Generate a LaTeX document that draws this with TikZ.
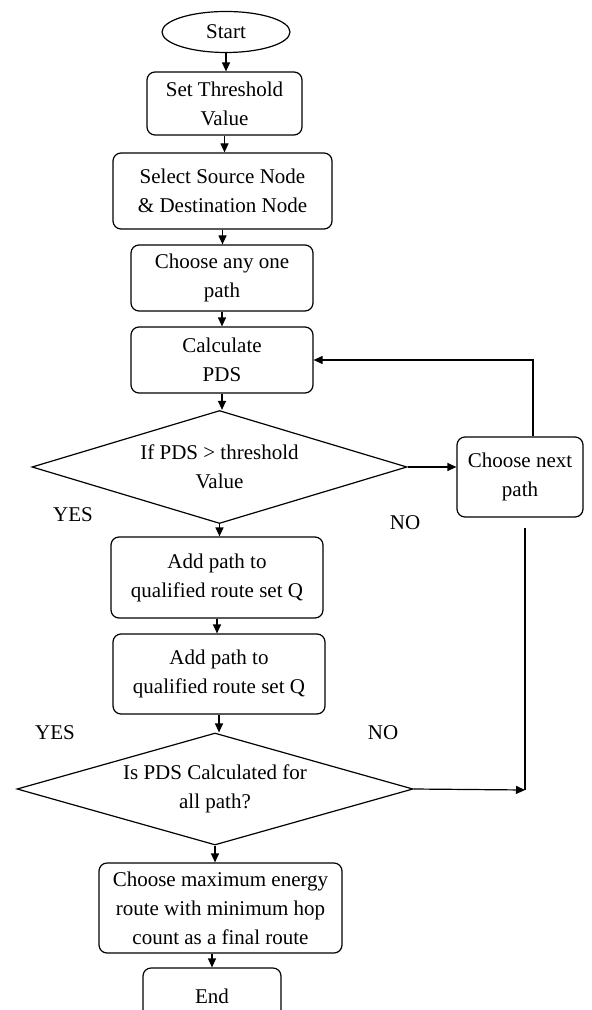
\documentclass[tikz,border=0pt]{standalone}
\usepackage{fontspec}
\setmainfont{Liberation Serif}
\usetikzlibrary{shapes.geometric,arrows.meta}

\tikzset{
  box/.style={draw, rounded corners=4pt, align=center, inner sep=2pt},
  term/.style={draw, ellipse, inner sep=0pt},
  decision/.style={draw, diamond, aspect=3.3, align=center, inner sep=0pt},
  arr/.style={-{Triangle[length=4.5pt,width=4pt]}},
  lbl/.style={inner sep=0pt}
}

\begin{document}
\begin{tikzpicture}[x=0.5pt, y=-0.5pt, line width=0.6pt,
  font=\fontsize{10.5}{14.5}\selectfont]

\clip (0,0) rectangle (592,1010);

\node[term, minimum width=64pt, minimum height=20.5pt] (start) at (226,32) {Start};
\node[box, minimum width=77.5pt, minimum height=31.5pt] (thresh) at (224.5,103.5) {Set Threshold\\Value};
\node[box, minimum width=109.5pt, minimum height=38pt] (select) at (222.5,191) {Select Source Node\\\& Destination Node};
\node[box, minimum width=91pt, minimum height=33pt] (choose) at (222,278) {Choose any one\\path};
\node[box, minimum width=91pt, minimum height=33pt] (calc) at (222,360) {Calculate\\PDS};
\node[decision, minimum width=187.5pt, minimum height=56.5pt] (dec1) at (219.5,467) {If PDS > threshold\\Value};
\node[box, minimum width=63pt, minimum height=40pt] (next) at (520,477) {Choose next\\path};
\node[box, minimum width=106pt, minimum height=40.5pt] (add1) at (217,577.5) {Add path to\\qualified route set Q};
\node[box, minimum width=106pt, minimum height=40pt] (add2) at (219,674) {Add path to\\qualified route set Q};
\node[decision, minimum width=198pt, minimum height=56pt] (dec2) at (215,789) {Is PDS Calculated for\\all path?};
\node[box, minimum width=121.5pt, minimum height=45pt] (final) at (220.5,908) {Choose maximum energy\\route with minimum hop\\count as a final route};
\node[box, minimum width=69pt, minimum height=40pt, text depth=0pt] (end) at (212,1008) {\raisebox{12pt}{End}};

% labels
\node[lbl] (yes1) at (73,515) {YES};
\node[lbl] (no1) at (405,523) {NO};
\node[lbl] (yes2) at (55,733) {YES};
\node[lbl] (no2) at (383,733) {NO};

% main flow
\draw[arr] (start.south) -- (start.south |- thresh.north);
\draw[arr] (thresh.south) -- (thresh.south |- select.north);
\draw[arr] (select.south) -- (select.south |- choose.north);
\draw[arr] (choose.south) -- (choose.south |- calc.north);
\draw[arr] (calc.south) -- (calc.south |- dec1.north);
\draw[arr] (dec1.south) -- (dec1.south |- add1.north);
\draw[arr] (add1.south) -- (add1.south |- add2.north);
\draw[arr] (add2.south) -- (add2.south |- dec2.north);
\draw[arr] (dec2.south) -- (dec2.south |- final.north);
\draw[arr] (final.south -| end.north) -- (end.north);

% loop back
\draw[arr] (dec1.east) -- (dec1.east -| next.west);
\draw[arr] ([xshift=6.5pt]next.north) |- (calc.east);
\coordinate (join) at (525,790);
\draw (join |- next.south) ++(0,10) -- (join);
\draw[arr] (dec2.east) -- (join);

\end{tikzpicture}
\end{document}
